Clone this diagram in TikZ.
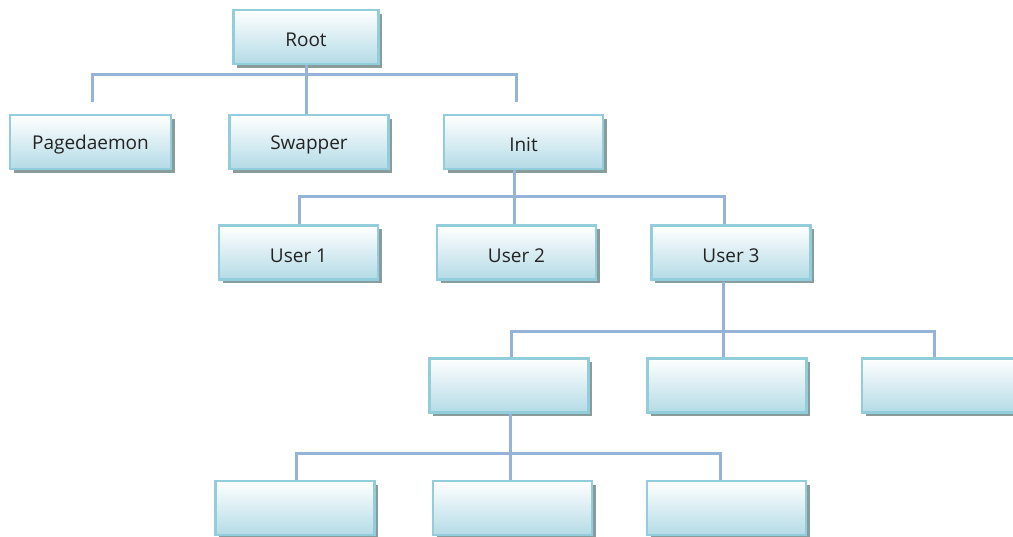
\documentclass[tikz,border=0pt]{standalone}
\usepackage{fontspec}
\newfontfamily\boxfont{Open Sans}
\usetikzlibrary{shadows}
\definecolor{boxedge}{RGB}{146,205,220}
\definecolor{boxbot}{RGB}{180,219,230}
\definecolor{shadowc}{RGB}{138,155,156}
\definecolor{linkc}{RGB}{149,179,215}
\definecolor{txt}{RGB}{35,35,35}
% box captions sit a little below the middle
\newcommand\boxcap[1]{\raisebox{-3pt}[\height][\depth]{#1}}
\tikzset{
  box/.style={draw=boxedge, line width=2.4pt,
    top color=white, middle color=boxbot!40!white, bottom color=boxbot,
    minimum width=159pt, minimum height=54pt, inner sep=0pt,
    font=\boxfont\fontsize{19}{21}\selectfont, text=txt,
    general shadow={fill=shadowc, shadow xshift=3.5pt, shadow yshift=-4pt}},
  link/.style={draw=linkc, line width=3pt, line join=miter}
}
\begin{document}
\begin{tikzpicture}[x=1pt, y=-1pt]
\useasboundingbox (0,0) rectangle (1013,537);

% level 0
\node[box, minimum width=145pt] (root) at (306,37) {\boxcap{Root}};
% level 1
\node[box, minimum width=161pt] (page) at (90.5,142) {\boxcap{Pagedaemon}};
\node[box] (swap) at (309,142) {\boxcap{Swapper}};
\node[box] (init) at (523.5,142) {\boxcap{Init}};
% level 2
\node[box] (u1) at (298.5,252.5) {\boxcap{User 1}};
\node[box] (u2) at (516.5,252.5) {\boxcap{User 2}};
\node[box] (u3) at (731,252.5) {\boxcap{User 3}};
% level 3
\node[box] (c1) at (509,385.5) {};
\node[box] (c2) at (727,385.5) {};
\node[box] (c3) at (941.5,385.5) {};
% level 4
\node[box] (g1) at (295,508) {};
\node[box] (g2) at (512.5,508) {};
\node[box] (g3) at (726.5,508) {};

% bus bars and free branch ends
\coordinate (rl) at (92,102);
\coordinate (rr) at (516,102);
\coordinate (rbar) at (306,75);
\coordinate (ibar) at (514,197);
\coordinate (ubar) at (723,332);
\coordinate (cbar) at (510,454);

% root -> level 1
\draw[link] (rl) |- (rbar) -| (rr);
\draw[link] (root.south) -- (root.south |- swap.north);
% init -> users
\draw[link] (ibar |- init.south) -- (ibar |- u2.north);
\draw[link] (u1.north -| 299,0) |- (ibar) -| (u3.north -| 724,0);
% user 3 -> children
\draw[link] ([yshift=-1pt]ubar |- u3.south) -- (ubar |- c2.north);
\draw[link] (c1.north -| 511,0) |- (ubar) -| (c3.north -| 934,0);
% child 1 -> grandchildren
\draw[link] (cbar |- c1.south) -- (cbar |- g2.north);
\draw[link] (g1.north -| 296,0) |- (cbar) -| (g3.north -| 720,0);
\end{tikzpicture}
\end{document}
